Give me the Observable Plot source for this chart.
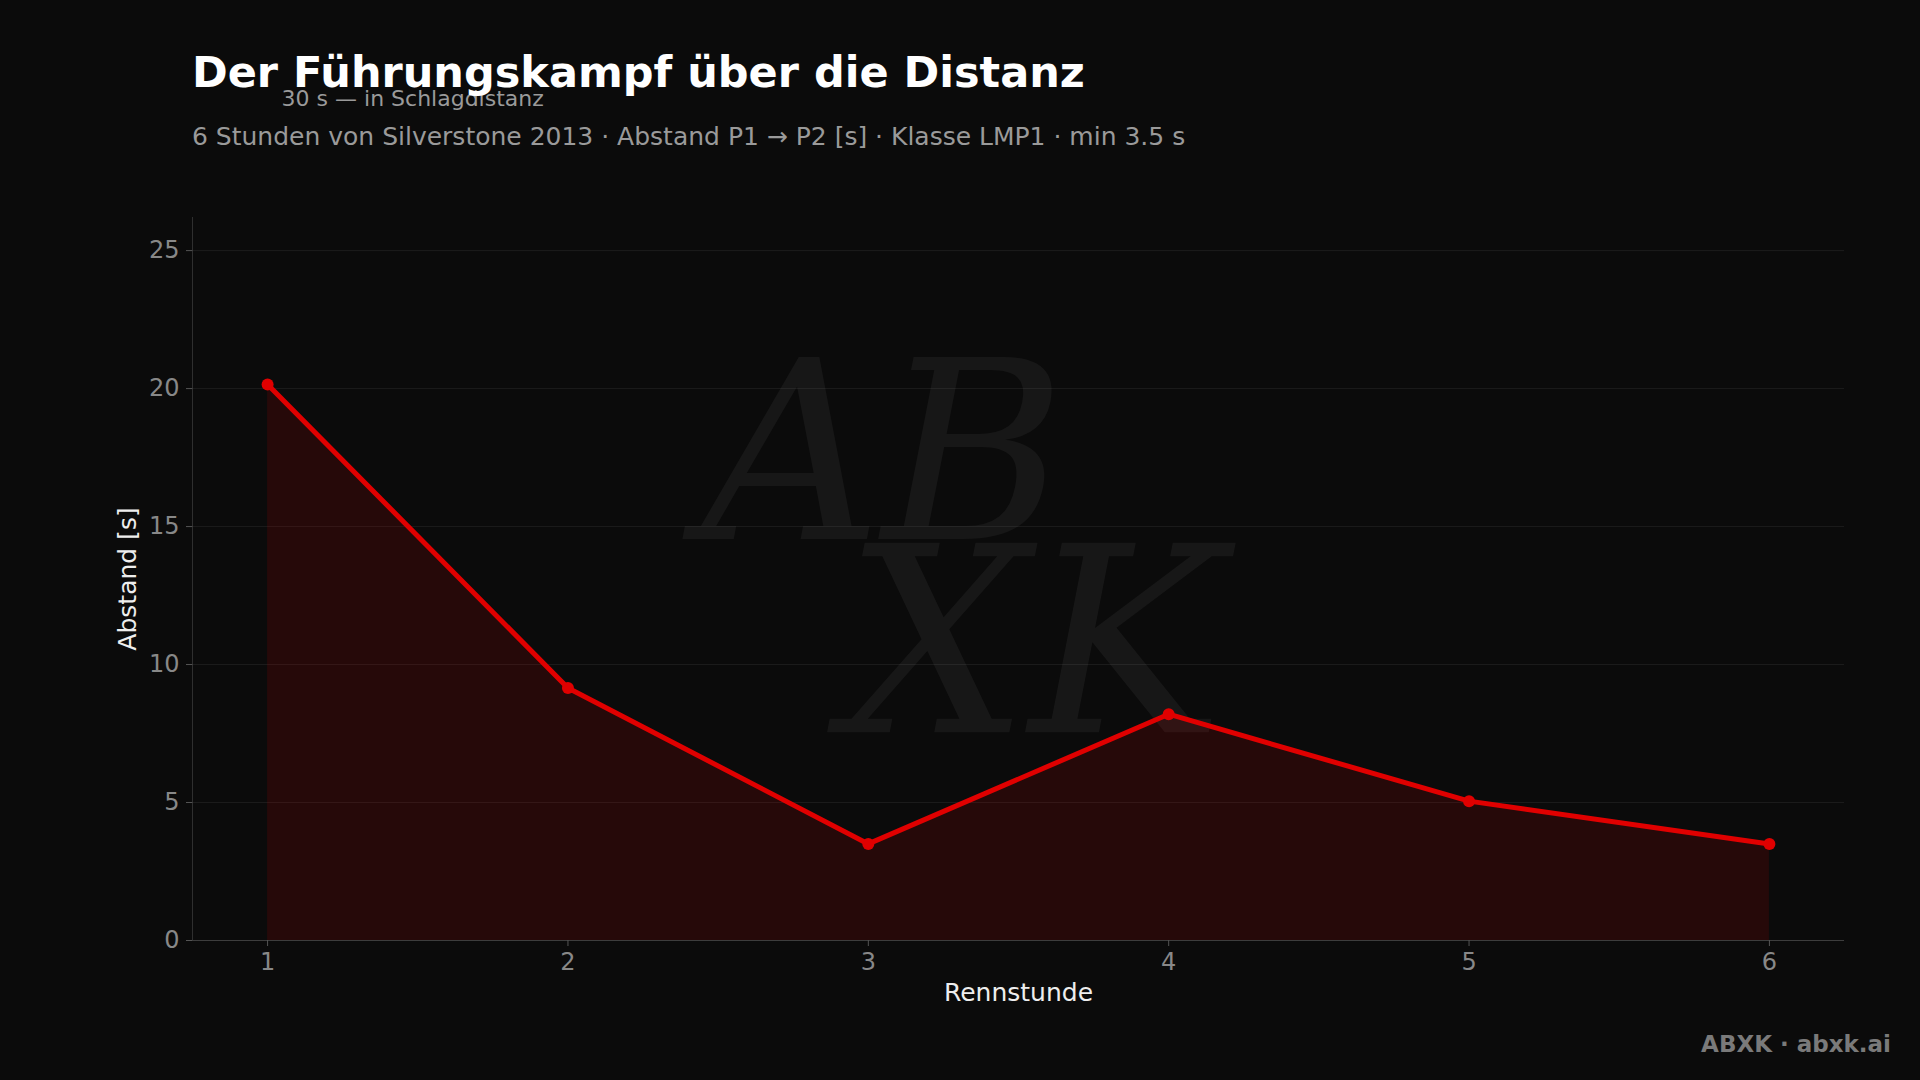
<!DOCTYPE html>
<html>
<head>
<meta charset="utf-8">
<script src="https://cdn.jsdelivr.net/npm/d3@7"></script>
<script src="https://cdn.jsdelivr.net/npm/@observablehq/plot@0.6"></script>
<style>
  html, body { margin: 0; padding: 0; background: #0b0b0b; }
  body { width: 1920px; height: 1080px; position: relative; overflow: hidden; font-family: "DejaVu Sans", sans-serif; }
  #header { position: relative; height: 160px; }
  #title { position: absolute; left: 192px; top: 51px; margin: 0; font-size: 43px; line-height: 1; font-weight: bold; color: #ffffff; white-space: nowrap; }
  #subtitle { position: absolute; left: 192px; top: 124px; margin: 0; font-size: 25px; line-height: 1; color: #9a9a9a; white-space: nowrap; }
  #chart svg { overflow: visible; display: block; }
  #footer { position: absolute; right: 29px; top: 1033px; font-size: 23px; line-height: 1; font-weight: bold; color: #7a7a7a; }
</style>
</head>
<body>
<div id="header">
  <h1 id="title">Der Führungskampf über die Distanz</h1>
  <p id="subtitle">6 Stunden von Silverstone 2013 · Abstand P1 → P2 [s] · Klasse LMP1 · min 3.5 s</p>
</div>
<div id="chart"></div>
<div id="footer">ABXK · abxk.ai</div>
<script>
// Data
const hours = [1, 2, 3, 4, 5, 6];
const gaps = [20.15, 9.15, 3.5, 8.2, 5.05, 3.5];
const yTicks = [0, 5, 10, 15, 20, 25];
const xTicks = [1, 2, 3, 4, 5, 6];
const thresholdValue = [30];
const thresholdLabel = ["30 s — in Schlagdistanz"];
const xLabel = "Rennstunde";
const yLabel = "Abstand [s]";

const data = hours.map((h, i) => ({hour: h, gap: gaps[i]}));
const threshold = thresholdValue.map((v, i) => ({hour: hours[0], value: v, label: thresholdLabel[i]}));

const red = "#e00000";

const chart = Plot.plot({
  width: 1920,
  height: 880,
  marginTop: 57,
  marginBottom: 100,
  marginLeft: 192,
  marginRight: 76,
  style: {background: "transparent", fontFamily: "DejaVu Sans, sans-serif", fontSize: "24px", color: "#888"},
  x: {domain: [0.75, 6.25]},
  y: {domain: [0, 26.2]},
  marks: [
    Plot.gridY(yTicks, {stroke: "#ffffff", strokeOpacity: 0.07, strokeWidth: 1}),
    Plot.text(["AB"], {frameAnchor: "middle", textAnchor: "middle", dx: -135, dy: -120, fontSize: 250, fontStyle: "italic", fontFamily: "DejaVu Serif", fill: "#ffffff", fillOpacity: 0.05}),
    Plot.text(["XK"], {frameAnchor: "middle", textAnchor: "middle", dx: 15, dy: 70, fontSize: 260, fontStyle: "italic", fontFamily: "DejaVu Serif", fill: "#ffffff", fillOpacity: 0.05}),
    Plot.areaY(data, {x: "hour", y: "gap", fill: red, fillOpacity: 0.13}),
    Plot.lineY(data, {x: "hour", y: "gap", stroke: red, strokeWidth: 5, strokeLinejoin: "round"}),
    Plot.dot(data, {x: "hour", y: "gap", r: 6, fill: red}),
    Plot.ruleX([0.75], {stroke: "#ffffff", strokeOpacity: 0.15}),
    Plot.ruleY([0], {stroke: "#ffffff", strokeOpacity: 0.15}),
    Plot.axisY(yTicks, {anchor: "left", tickSize: 6, tickPadding: 7, label: null, stroke: "#555", fill: "#888", fontSize: 24}),
    Plot.axisX(xTicks, {anchor: "bottom", tickSize: 6, tickPadding: 6, label: null, stroke: "#555", fill: "#888", fontSize: 24, tickFormat: d => String(d)}),
    Plot.text([yLabel], {frameAnchor: "left", textAnchor: "middle", dx: -65, rotate: -90, fill: "#eeeeee", fontSize: 25}),
    Plot.text([xLabel], {frameAnchor: "bottom", textAnchor: "middle", dy: 60, fill: "#eeeeee", fontSize: 25}),
    Plot.text(threshold, {x: "hour", y: "value", text: "label", textAnchor: "start", dx: 14, dy: -14, fill: "#9a9a9a", fontSize: 22, clip: false})
  ]
});
document.getElementById("chart").appendChild(chart);
</script>
</body>
</html>
